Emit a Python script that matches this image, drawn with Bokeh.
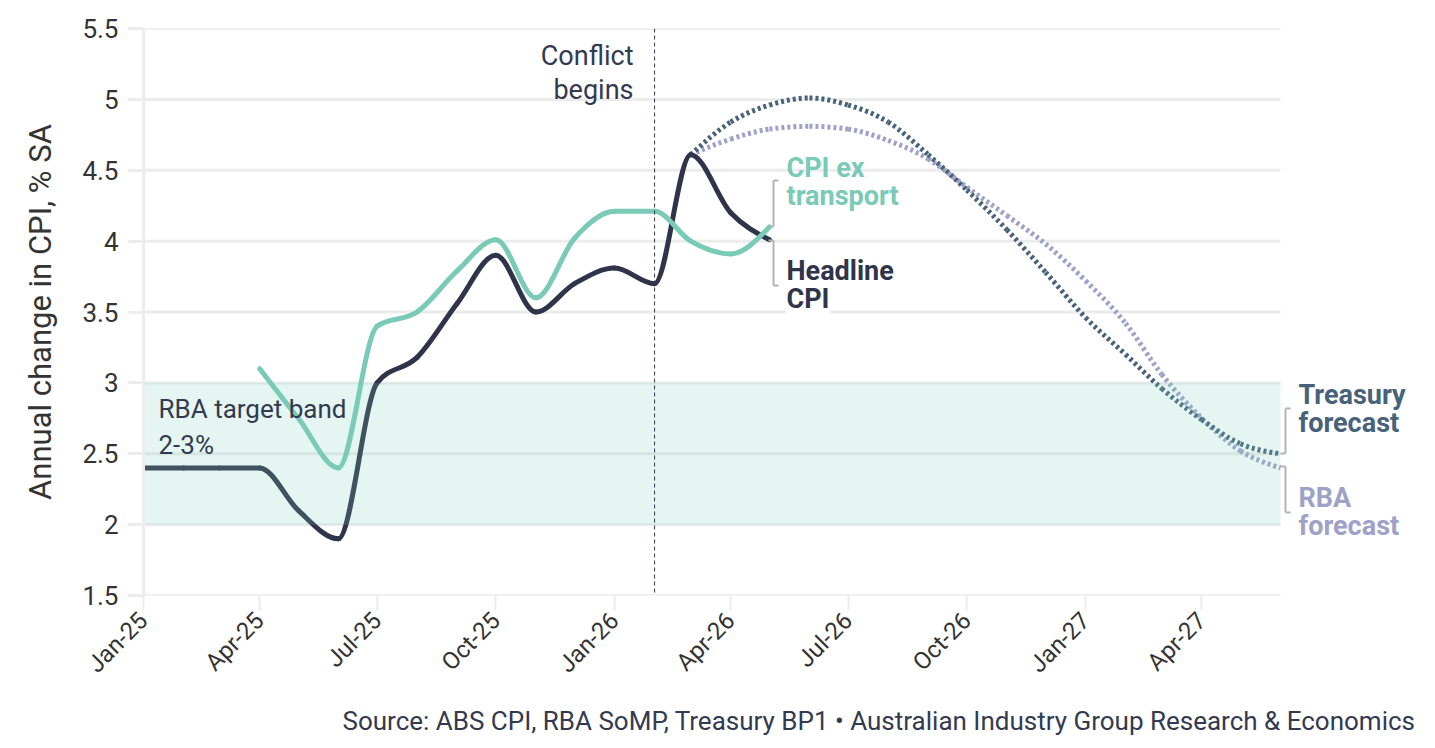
import math
from datetime import datetime, timezone
from bokeh.plotting import figure
from bokeh.models import (Span, Label, Arrow, FixedTicker, Range1d, Title)
from bokeh.embed import file_html
from bokeh.resources import INLINE

# ---------------- data ----------------
headline_months = ["2025-01", "2025-02", "2025-03", "2025-04", "2025-05", "2025-06",
                   "2025-07", "2025-08", "2025-09", "2025-10", "2025-11", "2025-12",
                   "2026-01", "2026-02", "2026-03", "2026-04", "2026-05"]
headline_cpi = [2.4, 2.4, 2.4, 2.4, 2.1, 1.9, 3.0, 3.18, 3.56, 3.9, 3.5, 3.7,
                3.81, 3.7, 4.61, 4.2, 4.01]

ex_transport_months = ["2025-04", "2025-05", "2025-06", "2025-07", "2025-08", "2025-09",
                       "2025-10", "2025-11", "2025-12", "2026-01", "2026-02", "2026-03",
                       "2026-04", "2026-05"]
cpi_ex_transport = [3.1, 2.75, 2.4, 3.4, 3.5, 3.79, 4.01, 3.6, 4.02, 4.21, 4.21, 4.0,
                    3.91, 4.1]

forecast_months = ["2026-03", "2026-04", "2026-05", "2026-06", "2026-07", "2026-08",
                   "2026-09", "2026-10", "2026-11", "2026-12", "2027-01", "2027-02",
                   "2027-03", "2027-04", "2027-05", "2027-06"]
treasury_forecast = [4.61, 4.84, 4.96, 5.01, 4.96, 4.84, 4.61, 4.36, 4.08, 3.78, 3.46,
                     3.2, 2.96, 2.74, 2.57, 2.5]
rba_forecast = [4.61, 4.72, 4.79, 4.81, 4.79, 4.71, 4.58, 4.38, 4.18, 3.98, 3.72, 3.42,
                3.06, 2.75, 2.52, 2.4]

x_tick_months = ["2025-01", "2025-04", "2025-07", "2025-10", "2026-01", "2026-04",
                 "2026-07", "2026-10", "2027-01", "2027-04"]
x_tick_labels = ["Jan-25", "Apr-25", "Jul-25", "Oct-25", "Jan-26", "Apr-26",
                 "Jul-26", "Oct-26", "Jan-27", "Apr-27"]
y_ticks = [1.5, 2, 2.5, 3, 3.5, 4, 4.5, 5, 5.5]
y_tick_labels = ["1.5", "2", "2.5", "3", "3.5", "4", "4.5", "5", "5.5"]

target_band = (2, 3)
conflict_month = "2026-02"
x_start_month, x_end_month = "2025-01", "2027-06"

source_text = ("Source: ABS CPI, RBA SoMP, Treasury BP1 \u2022 "
               "Australian Industry Group Research & Economics")

# ---------------- helpers ----------------
def ms(m, day=1):
    y, mo = m.split("-")
    return datetime(int(y), int(mo), day, tzinfo=timezone.utc).timestamp() * 1000.0

def sgn(v):
    return -1.0 if v < 0 else 1.0

def monotone_beziers(xs, ys):
    """Bezier control points of a monotone-X curve through the given points."""
    n = len(xs)
    s = [(ys[i + 1] - ys[i]) / (xs[i + 1] - xs[i]) for i in range(n - 1)]
    t = [0.0] * n
    for i in range(1, n - 1):
        h0 = xs[i] - xs[i - 1]
        h1 = xs[i + 1] - xs[i]
        s0, s1 = s[i - 1], s[i]
        p_ = (s0 * h1 + s1 * h0) / (h0 + h1)
        t[i] = (sgn(s0) + sgn(s1)) * min(abs(s0), abs(s1), 0.5 * abs(p_))
    t[0] = (3 * s[0] - t[1]) / 2 if n > 2 else s[0]
    t[-1] = (3 * s[-1] - t[-2]) / 2 if n > 2 else s[-1]
    d = dict(x0=[], y0=[], x1=[], y1=[], cx0=[], cy0=[], cx1=[], cy1=[])
    for i in range(n - 1):
        dx = (xs[i + 1] - xs[i]) / 3
        d["x0"].append(xs[i]); d["y0"].append(ys[i])
        d["x1"].append(xs[i + 1]); d["y1"].append(ys[i + 1])
        d["cx0"].append(xs[i] + dx); d["cy0"].append(ys[i] + dx * t[i])
        d["cx1"].append(xs[i + 1] - dx); d["cy1"].append(ys[i + 1] - dx * t[i + 1])
    return d

FONT = "Roboto"
DARK = "#2f344a"
GREEN = "#79cab7"
TREAS = "#48627a"
RBA = "#9ea1c8"
TEXT = "#333a4f"
GRID = "#ececec"
BRACKET = "#b3b3b3"

# layout geometry (pixels): plotted period spans 143..1280; the frame carries on to
# the right edge so that the end labels can sit beside the lines.
LEFT_PX, END_PX, RIGHT_PX = 143, 1280, 1435
TOP_PX, BOTTOM_PX = 28, 595
X0, X1 = ms(x_start_month), ms(x_end_month)
X_RIGHT = X0 + (RIGHT_PX - LEFT_PX) / (END_PX - LEFT_PX) * (X1 - X0)

p = figure(width=1435, height=748, x_axis_type="datetime",
           x_range=Range1d(X0, X_RIGHT),
           y_range=Range1d(y_ticks[0], y_ticks[-1]),
           output_backend="svg", toolbar_location=None,
           min_border_left=LEFT_PX, min_border_right=0,
           min_border_top=TOP_PX, min_border_bottom=748 - BOTTOM_PX,
           background_fill_color="white", border_fill_color="white")
p.outline_line_color = None

# grid (drawn as segments so that it stops at the end of the period)
p.xgrid.grid_line_color = None
p.ygrid.grid_line_color = None
p.segment(x0=[X0] * len(y_ticks), x1=[X1] * len(y_ticks), y0=y_ticks, y1=y_ticks,
          line_color=GRID, line_width=3)

# y axis
p.yaxis.ticker = FixedTicker(ticks=y_ticks)
p.yaxis.major_label_overrides = {k: v for k, v in zip(y_ticks, y_tick_labels)}
p.yaxis.axis_line_color = GRID
p.yaxis.axis_line_width = 3
p.yaxis.major_tick_line_color = GRID
p.yaxis.major_tick_line_width = 3
p.yaxis.major_tick_out = 15
p.yaxis.major_tick_in = 0
p.yaxis.minor_tick_line_color = None
p.yaxis.major_label_text_font = FONT
p.yaxis.major_label_text_font_size = "26px"
p.yaxis.major_label_text_color = "#333333"
p.yaxis.major_label_standoff = 10
p.yaxis.axis_label = "Annual change in CPI, % SA"
p.yaxis.axis_label_text_font = FONT
p.yaxis.axis_label_text_font_size = "31px"
p.yaxis.axis_label_text_font_style = "normal"
p.yaxis.axis_label_text_color = "#333333"
p.yaxis.axis_label_standoff = 20

# x axis
xt = [int(ms(m)) for m in x_tick_months]
p.xaxis.ticker = FixedTicker(ticks=xt)
p.xaxis.major_label_overrides = {k: v for k, v in zip(xt, x_tick_labels)}
p.xaxis.axis_line_color = None
p.xaxis.major_tick_line_color = GRID
p.xaxis.major_tick_line_width = 2
p.xaxis.major_tick_out = 15
p.xaxis.major_tick_in = 0
p.xaxis.minor_tick_line_color = None
p.xaxis.major_label_orientation = math.pi / 4
p.xaxis.major_label_text_font = FONT
p.xaxis.major_label_text_font_size = "24px"
p.xaxis.major_label_text_color = "#333333"
p.xaxis.major_label_standoff = 6

# source line below the axis
p.add_layout(Title(text=source_text, align="right", offset=20, standoff=25,
                   vertical_align="bottom",
                   text_font=FONT, text_font_size="26px", text_font_style="normal",
                   text_color=TEXT), "below")

# conflict line
p.add_layout(Span(location=ms(conflict_month), dimension="height",
                  line_color="#333a4f", line_width=1, line_dash="4 3"))

# series
def curve(months, vals, color, width, dash="solid", cap="round"):
    d = monotone_beziers([ms(m) for m in months], vals)
    p.bezier(source=d, x0="x0", y0="y0", x1="x1", y1="y1", cx0="cx0", cy0="cy0",
             cx1="cx1", cy1="cy1", line_color=color, line_width=width,
             line_dash=dash, line_cap=cap)

curve(forecast_months, rba_forecast, RBA, 5, "3 3", "butt")
curve(forecast_months, treasury_forecast, TREAS, 5, "3 3", "butt")
curve(headline_months, headline_cpi, DARK, 5)
curve(ex_transport_months, cpi_ex_transport, GREEN, 5)

# target band on top (tints the lines)
p.quad(left=[X0], right=[X1], bottom=[target_band[0]], top=[target_band[1]],
       fill_color="#7ccbb9", fill_alpha=0.2, line_color=None)

# ---------------- annotations ----------------
def px_x(px):
    return X0 + (px - LEFT_PX) / (END_PX - LEFT_PX) * (X1 - X0)

def px_y(py):
    return y_ticks[0] + (BOTTOM_PX - py) / (BOTTOM_PX - TOP_PX) * (y_ticks[-1] - y_ticks[0])

def label(txt, px, py, color, size, bold=False, align="left", bg=None):
    p.add_layout(Label(x=px_x(px), y=px_y(py), text=txt, text_color=color,
                       text_font=FONT, text_font_size=size,
                       text_font_style="bold" if bold else "normal",
                       text_align=align, text_baseline="middle",
                       background_fill_color=bg))

label("Conflict", 633, 55, TEXT, "27px", align="right")
label("begins", 633, 89, TEXT, "27px", align="right")
label("RBA target band", 158, 408, TEXT, "26px")
label("2-3%", 158, 444, TEXT, "26px")
label("CPI ex", 786, 167, GREEN, "27px", bold=True)
label("transport", 786, 195, GREEN, "27px", bold=True)
label("Headline", 786, 270, DARK, "27px", bold=True)
label("CPI", 786, 298, DARK, "27px", bold=True, bg="white")
label("Treasury", 1298, 394, TREAS, "27px", bold=True)
label("forecast", 1298, 422, TREAS, "27px", bold=True)
label("RBA", 1298, 497, RBA, "27px", bold=True)
label("forecast", 1298, 525, RBA, "27px", bold=True)

def seg(x0, y0, x1, y1, color=BRACKET, w=2):
    p.add_layout(Arrow(end=None, x_start=px_x(x0), y_start=px_y(y0),
                       x_end=px_x(x1), y_end=px_y(y1),
                       line_color=color, line_width=w))

def bracket(px, top, bot, top_dir, bot_dir):
    seg(px, top, px, bot)
    seg(px, top, px + 5 * top_dir, top)
    seg(px, bot, px + 5 * bot_dir, bot)

bracket(773, 180, 226, 1, -1)
bracket(773, 240, 285, -1, 1)
bracket(1285, 408, 453, 1, -1)
bracket(1285, 466, 512, -1, 1)

open("out.html", "w").write(file_html(p, INLINE))
